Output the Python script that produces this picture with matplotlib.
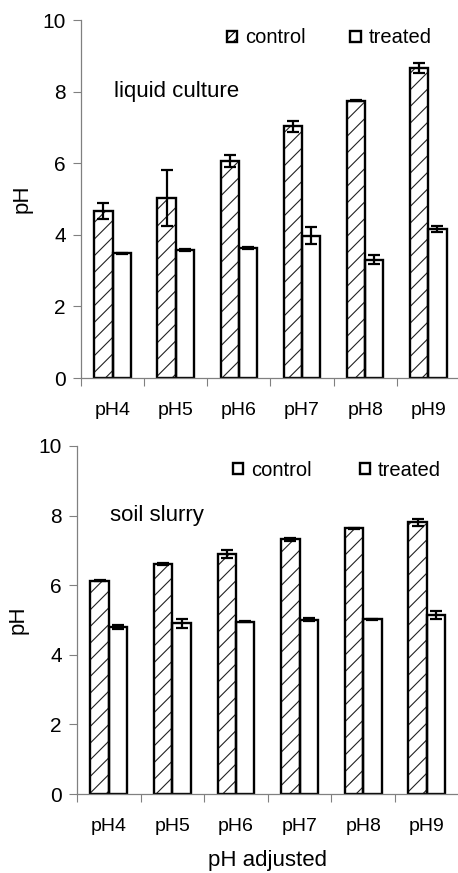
import matplotlib
matplotlib.use("Agg")
import matplotlib.pyplot as plt
import numpy as np
from matplotlib.patches import Patch

plt.rcParams['font.family'] = ['Liberation Sans', 'DejaVu Sans']
plt.rcParams['hatch.linewidth'] = 0.8

categories = ["pH4", "pH5", "pH6", "pH7", "pH8", "pH9"]

liquid_control = [4.67, 5.03, 6.06, 7.03, 7.75, 8.66]
liquid_control_err = [0.22, 0.78, 0.17, 0.15, 0.02, 0.15]
liquid_treated = [3.48, 3.57, 3.63, 3.98, 3.31, 4.16]
liquid_treated_err = [0.02, 0.03, 0.03, 0.24, 0.12, 0.08]

soil_control = [6.13, 6.61, 6.89, 7.32, 7.63, 7.81]
soil_control_err = [0.02, 0.02, 0.11, 0.05, 0.02, 0.10]
soil_treated = [4.80, 4.90, 4.95, 5.01, 5.02, 5.14]
soil_treated_err = [0.05, 0.12, 0.01, 0.04, 0.01, 0.12]

fig = plt.figure(figsize=(4.58, 8.73), dpi=100)
W, H = 458, 873
ax1 = fig.add_axes([81 / W, 1 - 378 / H, (458 - 81) / W, (378 - 20) / H])
ax2 = fig.add_axes([77 / W, 1 - 794 / H, (458 - 77) / W, (794 - 446) / H])

bw = 0.29
x = np.arange(len(categories)) + 0.5


def draw(ax, ctrl, ctrl_err, trt, trt_err, label, legend_hatch, xmax, leg_anchor, colsp):
    # hatch fill then black outline
    ax.bar(x - bw / 2, ctrl, bw, color='white', edgecolor='#222222', hatch='//',
           linewidth=0, zorder=2)
    ax.bar(x - bw / 2, ctrl, bw, fill=False, edgecolor='black',
           linewidth=1.7, zorder=2.5)
    ax.bar(x + bw / 2, trt, bw, color='white', edgecolor='black',
           linewidth=1.7, zorder=2)
    ax.errorbar(x - bw / 2, ctrl, yerr=ctrl_err, fmt='none', ecolor='black',
                elinewidth=1.6, capsize=4.5, capthick=1.6, zorder=3)
    ax.errorbar(x + bw / 2, trt, yerr=trt_err, fmt='none', ecolor='black',
                elinewidth=1.6, capsize=4.5, capthick=1.6, zorder=3)
    ax.set_xlim(0, xmax)
    ax.set_ylim(0, 10)
    ax.set_yticks([0, 2, 4, 6, 8, 10])
    ax.set_xticks(np.arange(0, 6))
    ax.set_xticklabels([])
    ax.set_xticks(x, minor=True)
    ax.set_xticklabels(categories, minor=True, fontsize=14)
    ax.tick_params(axis='x', which='major', length=6, color='#808080', direction='out')
    ax.tick_params(axis='x', which='minor', length=0, pad=17)
    ax.tick_params(axis='y', length=6, color='#808080', labelsize=15, pad=5)
    for s in ['top', 'right']:
        ax.spines[s].set_visible(False)
    for s in ['left', 'bottom']:
        ax.spines[s].set_color('#808080')
        ax.spines[s].set_linewidth(0.9)
    ax.set_ylabel('pH', fontsize=16, labelpad=7)
    ax.text(0.52, 8, label, fontsize=16, va='center', ha='left')
    handles = [Patch(facecolor='white', edgecolor='black', linewidth=1.7,
                     hatch=legend_hatch, label='control'),
               Patch(facecolor='white', edgecolor='black', linewidth=1.7,
                     label='treated')]
    ax.legend(handles=handles, ncol=2, frameon=False, loc='center right',
              bbox_to_anchor=leg_anchor, fontsize=14.5, handlelength=0.5,
              handleheight=0.5, handletextpad=0.4, columnspacing=colsp,
              borderpad=0, borderaxespad=0)


draw(ax1, liquid_control, liquid_control_err, liquid_treated, liquid_treated_err,
     'liquid culture', '////', 5.97, (0.93, 0.95), 2.2)
draw(ax2, soil_control, soil_control_err, soil_treated, soil_treated_err,
     'soil slurry', '', 5.99, (0.955, 0.93), 2.4)
ax2.set_xlabel('pH adjusted', fontsize=16, labelpad=11)

fig.savefig('out.png', dpi=100)
